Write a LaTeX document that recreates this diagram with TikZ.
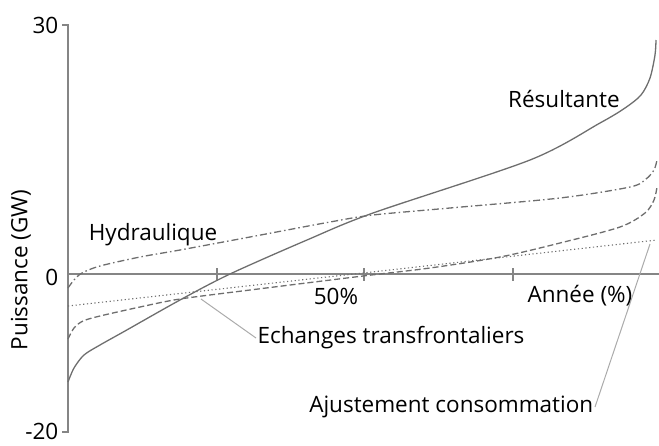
\documentclass[tikz,border=0pt]{standalone}
\usepackage{fontspec}
\setmainfont{Open Sans}
\usepackage{tikz}

\definecolor{axisgray}{HTML}{858585}
\definecolor{curvegray}{HTML}{6E6E6E}
\definecolor{leadergray}{HTML}{ABABAB}

\begin{document}
\begin{tikzpicture}[x=1pt, y=-1pt,
        axisline/.style={draw=axisgray, line width=1.3pt},
        curve/.style={draw=curvegray, line width=1.3pt, smooth, tension=0.5},
        leader/.style={draw=leadergray, line width=1pt},
        lbl/.style={font=\fontsize{22.5}{26}\selectfont, inner sep=1.5pt}]
        \useasboundingbox (0,0) rectangle (659,445);

        % Axes
        \coordinate (top) at (68,25);
        \coordinate (bottom) at (68,432);
        \coordinate (origin) at (68,274);
        \coordinate (xend) at (659,274);
        \draw [axisline] (62,25) -- (top) -- (bottom) -- (62,432);
        \draw [axisline] (origin) -- (xend);
        \foreach \x in {217,364,513}
            \draw [axisline] (\x,268) -- (\x,281);

        % Nodes
        \node (ymax) [lbl, anchor=east] at (60,25) {30};
        \node (yzero) [lbl, anchor=east] at (60,277) {0};
        \node (ymin) [lbl, anchor=east] at (60,431) {-20};
        \node (ytitle) [lbl, rotate=90] at (21,270) {Puissance (GW)};
        \node (half) [lbl] at (336,296) {50\%};
        \node (xtitle) [lbl] at (580,296) {Année (\%)};
        \node (hydro) [lbl] at (153,235) {Hydraulique};
        \node (result) [lbl] at (564,99) {Résultante};
        \node (echlbl) [lbl, anchor=west] at (256,338) {Echanges transfrontaliers};
        \node (ajulbl) [lbl, anchor=east] at (595,407) {Ajustement consommation};

        % Curves
        \draw [curve] plot coordinates {(68,382) (74,368) (84,355) (100,345) (125,331)
            (180,300) (230,274) (307,240) (373,213) (530,160) (600,123) (625,108)
            (641,95) (650,78) (655,55) (656,40)};
        \draw [curve, dash pattern=on 7pt off 3pt on 1.5pt off 3pt]
            plot coordinates {(68,288) (74,280) (82,273) (100,266) (140,257) (180,250)
            (250,237) (330,222) (373,215) (450,208) (560,198) (630,187) (646,179)
            (654,170) (657,160)};
        \draw [curve, dash pattern=on 6pt off 3pt]
            plot coordinates {(68,339) (74,328) (83,321) (100,316) (140,307) (180,299)
            (250,290) (363,276) (430,268) (500,257) (560,243) (620,227) (645,213)
            (654,200) (657,187)};
        \draw [curve, line width=1.1pt, dash pattern=on 1.2pt off 2.6pt]
            (68,306) -- (363,273) -- (657,240);

        % Leaders
        \coordinate (ech) at (201,299);
        \coordinate (aju) at (650,244);
        \draw [leader] (ech) -- (echlbl.west);
        \draw [leader] (aju) -- (ajulbl.east);
\end{tikzpicture}
\end{document}
